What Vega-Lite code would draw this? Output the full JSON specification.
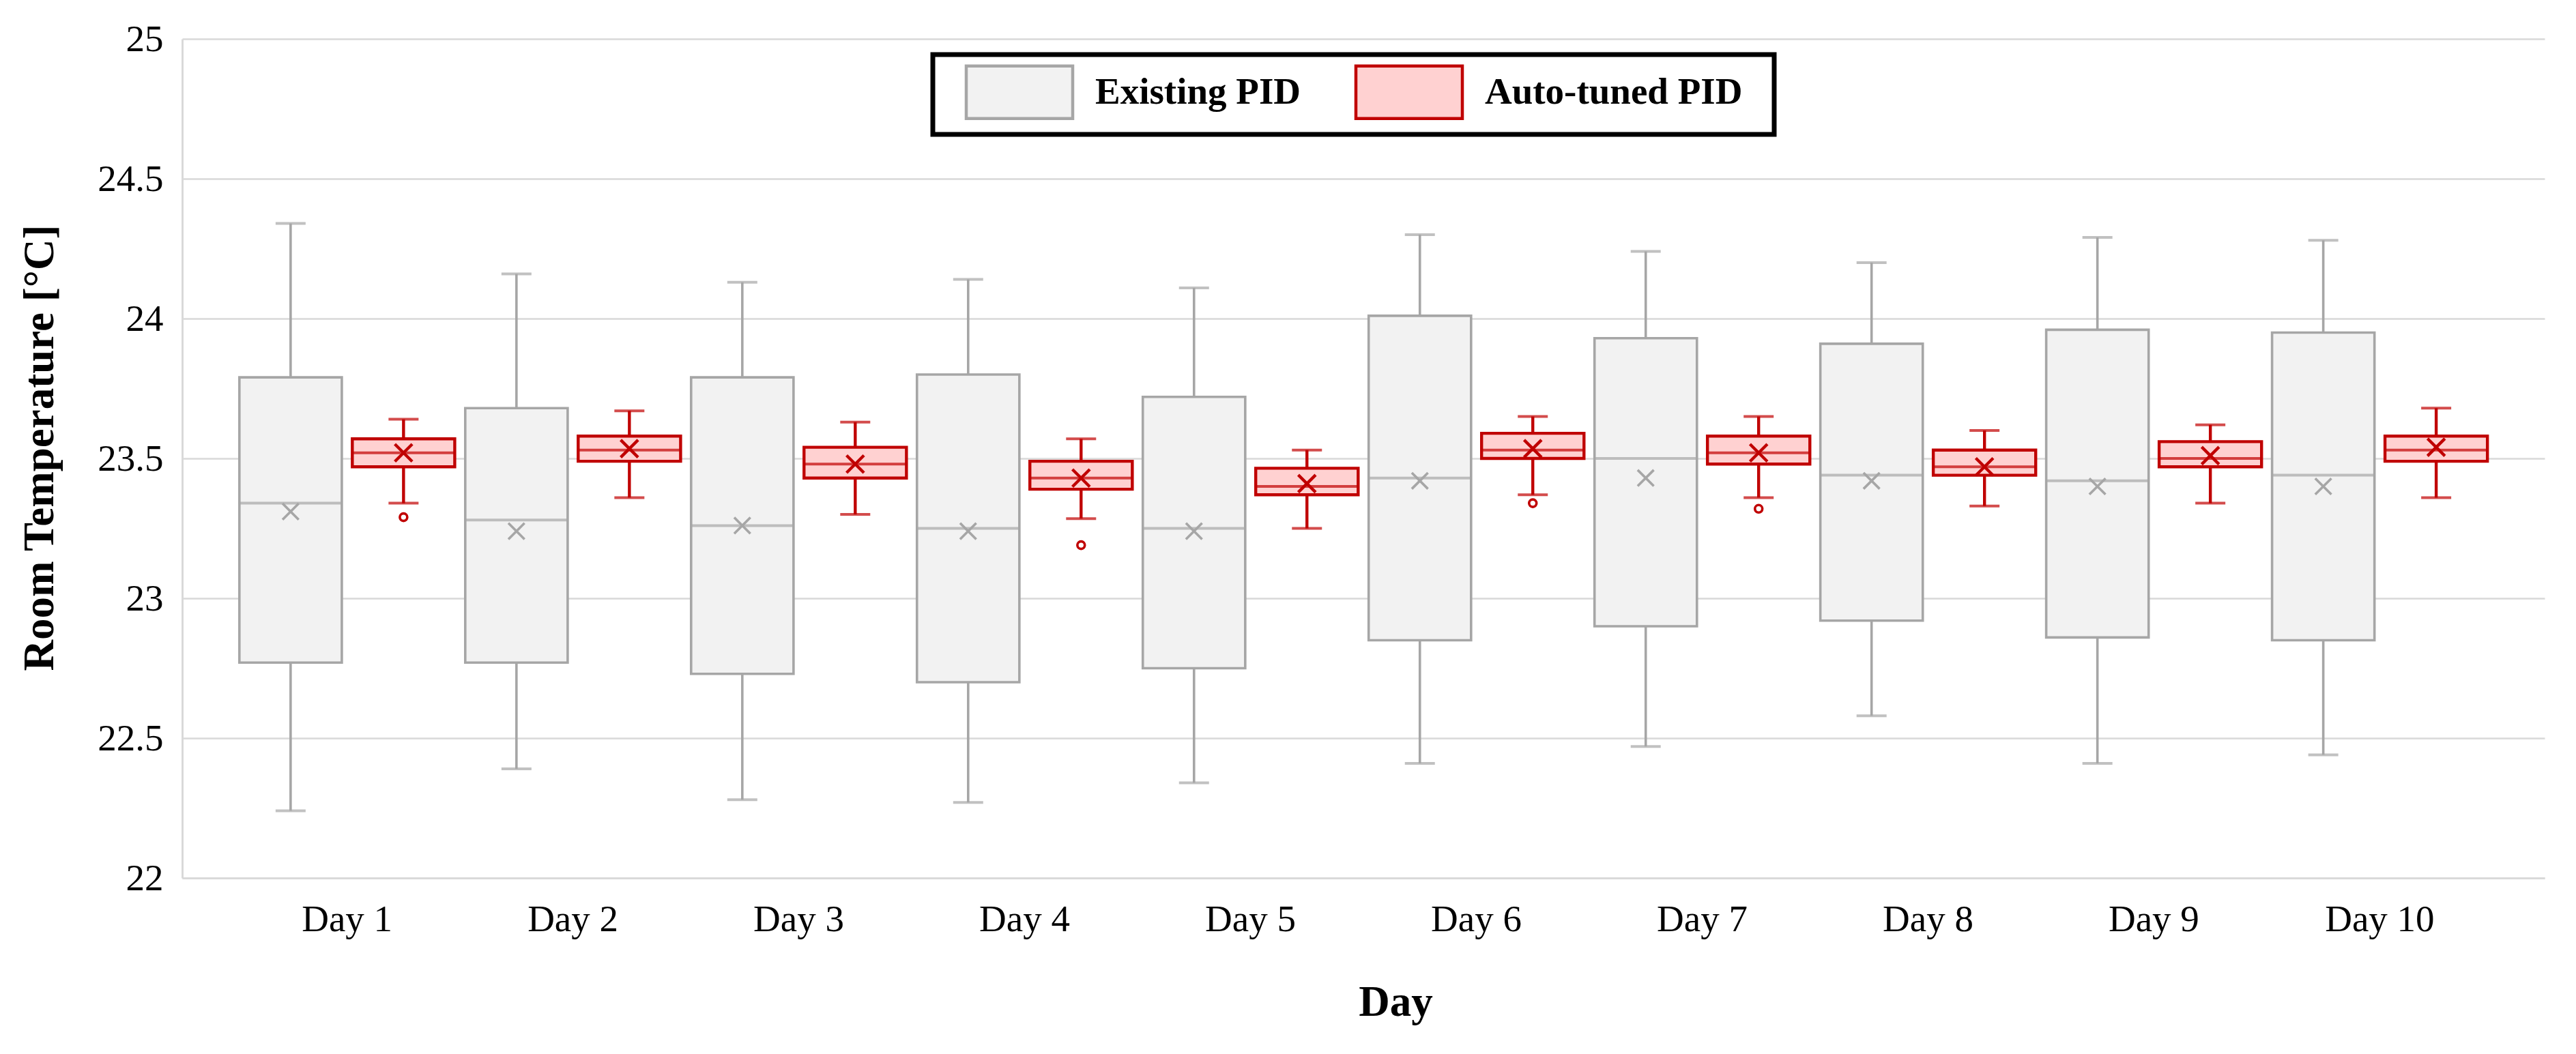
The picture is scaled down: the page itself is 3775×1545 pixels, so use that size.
{
  "$schema": "https://vega.github.io/schema/vega-lite/v6.json",
  "width": 3462,
  "height": 1230,
  "autosize": {"type": "none"},
  "padding": {"left": 267, "top": 57, "right": 46, "bottom": 258},
  "background": "white",
  "config": {
    "view": {"stroke": null},
    "font": "Liberation Serif",
    "axis": {
      "labelFont": "Liberation Serif",
      "labelFontSize": 55,
      "labelColor": "black",
      "titleFont": "Liberation Serif",
      "titleFontSize": 63,
      "titleFontWeight": "bold",
      "titleColor": "black",
      "ticks": false,
      "tickSize": 0,
      "domainColor": "#d9d9d9",
      "domainWidth": 3,
      "gridColor": "#d9d9d9",
      "gridWidth": 2.5
    },
    "axisX": {
      "grid": false,
      "labelAngle": 0,
      "labelPadding": 34,
      "labelBaseline": "top",
      "titleX": 1778,
      "titleY": 201,
      "titleAlign": "center",
      "titleBaseline": "alphabetic"
    },
    "axisY": {
      "grid": true,
      "labelPadding": 28,
      "titleX": -190,
      "titleY": 599,
      "titleAngle": -90,
      "titleAlign": "center",
      "titleBaseline": "alphabetic"
    },
    "legend": {
      "direction": "horizontal",
      "padding": 14,
      "strokeColor": "black",
      "strokeWidth": 7,
      "fillColor": "white",
      "symbolType": "M-2.026,-1H2.026V1H-2.026Z",
      "symbolSize": 5929,
      "symbolStrokeWidth": 4.5,
      "symbolOpacity": 1,
      "symbolOffset": 72,
      "labelOffset": 70,
      "columnPadding": 45,
      "labelFont": "Liberation Serif",
      "labelFontSize": 55,
      "labelFontWeight": "bold",
      "labelColor": "black",
      "labelLimit": 1000,
      "titleOrient": "right",
      "titlePadding": 33,
      "titleFontSize": 10,
      "titleColor": "white"
    }
  },
  "datasets": {
    "boxes": [
      {"day": "Day 1", "series": "Existing PID", "lower": 22.24, "q1": 22.77, "median": 23.34, "q3": 23.79, "upper": 24.34, "mean": 23.31},
      {"day": "Day 2", "series": "Existing PID", "lower": 22.39, "q1": 22.77, "median": 23.28, "q3": 23.68, "upper": 24.16, "mean": 23.24},
      {"day": "Day 3", "series": "Existing PID", "lower": 22.28, "q1": 22.73, "median": 23.26, "q3": 23.79, "upper": 24.13, "mean": 23.26},
      {"day": "Day 4", "series": "Existing PID", "lower": 22.27, "q1": 22.70, "median": 23.25, "q3": 23.80, "upper": 24.14, "mean": 23.24},
      {"day": "Day 5", "series": "Existing PID", "lower": 22.34, "q1": 22.75, "median": 23.25, "q3": 23.72, "upper": 24.11, "mean": 23.24},
      {"day": "Day 6", "series": "Existing PID", "lower": 22.41, "q1": 22.85, "median": 23.43, "q3": 24.01, "upper": 24.30, "mean": 23.42},
      {"day": "Day 7", "series": "Existing PID", "lower": 22.47, "q1": 22.90, "median": 23.50, "q3": 23.93, "upper": 24.24, "mean": 23.43},
      {"day": "Day 8", "series": "Existing PID", "lower": 22.58, "q1": 22.92, "median": 23.44, "q3": 23.91, "upper": 24.20, "mean": 23.42},
      {"day": "Day 9", "series": "Existing PID", "lower": 22.41, "q1": 22.86, "median": 23.42, "q3": 23.96, "upper": 24.29, "mean": 23.40},
      {"day": "Day 10", "series": "Existing PID", "lower": 22.44, "q1": 22.85, "median": 23.44, "q3": 23.95, "upper": 24.28, "mean": 23.40},
      {"day": "Day 1", "series": "Auto-tuned PID", "lower": 23.34, "q1": 23.47, "median": 23.52, "q3": 23.57, "upper": 23.64, "mean": 23.52},
      {"day": "Day 2", "series": "Auto-tuned PID", "lower": 23.36, "q1": 23.49, "median": 23.53, "q3": 23.58, "upper": 23.67, "mean": 23.535},
      {"day": "Day 3", "series": "Auto-tuned PID", "lower": 23.30, "q1": 23.43, "median": 23.48, "q3": 23.54, "upper": 23.63, "mean": 23.48},
      {"day": "Day 4", "series": "Auto-tuned PID", "lower": 23.285, "q1": 23.39, "median": 23.43, "q3": 23.49, "upper": 23.57, "mean": 23.43},
      {"day": "Day 5", "series": "Auto-tuned PID", "lower": 23.25, "q1": 23.37, "median": 23.40, "q3": 23.465, "upper": 23.53, "mean": 23.41},
      {"day": "Day 6", "series": "Auto-tuned PID", "lower": 23.37, "q1": 23.50, "median": 23.53, "q3": 23.59, "upper": 23.65, "mean": 23.535},
      {"day": "Day 7", "series": "Auto-tuned PID", "lower": 23.36, "q1": 23.48, "median": 23.52, "q3": 23.58, "upper": 23.65, "mean": 23.52},
      {"day": "Day 8", "series": "Auto-tuned PID", "lower": 23.33, "q1": 23.44, "median": 23.47, "q3": 23.53, "upper": 23.60, "mean": 23.47},
      {"day": "Day 9", "series": "Auto-tuned PID", "lower": 23.34, "q1": 23.47, "median": 23.50, "q3": 23.56, "upper": 23.62, "mean": 23.51},
      {"day": "Day 10", "series": "Auto-tuned PID", "lower": 23.36, "q1": 23.49, "median": 23.53, "q3": 23.58, "upper": 23.68, "mean": 23.54}
    ],
    "outliers": [
      {"day": "Day 1", "series": "Auto-tuned PID", "value": 23.29},
      {"day": "Day 4", "series": "Auto-tuned PID", "value": 23.19},
      {"day": "Day 6", "series": "Auto-tuned PID", "value": 23.34},
      {"day": "Day 7", "series": "Auto-tuned PID", "value": 23.32}
    ]
  },
  "encoding": {
    "x": {
      "field": "day",
      "type": "nominal",
      "title": "Day",
      "scale": {
        "domain": ["Day 1", "Day 2", "Day 3", "Day 4", "Day 5", "Day 6", "Day 7", "Day 8", "Day 9", "Day 10"],
        "paddingInner": 0,
        "paddingOuter": 0.23
      }
    },
    "xOffset": {
      "field": "series",
      "type": "nominal",
      "scale": {"domain": ["Existing PID", "Auto-tuned PID"], "paddingInner": 0.093, "paddingOuter": 0.0465}
    }
  },
  "layer": [
    {
      "data": {"name": "boxes"},
      "mark": {"type": "rule"},
      "encoding": {
        "y": {"field": "lower", "type": "quantitative", "title": "Room Temperature [°C]", "scale": {"domain": [22, 25], "nice": false, "zero": false}, "axis": {"values": [22, 22.5, 23, 23.5, 24, 24.5, 25], "format": "~g"}},
        "y2": {"field": "upper"},
        "color": {"field": "series", "type": "nominal", "scale": {"range": ["#c00000", "#a6a6a6"]}, "legend": null},
        "strokeWidth": {"field": "series", "type": "nominal", "scale": {"range": [4.4, 3.6]}, "legend": null}
      }
    },
    {
      "data": {"name": "boxes"},
      "mark": {"type": "bar", "opacity": 1},
      "encoding": {
        "y": {"field": "q1", "type": "quantitative", "title": "Room Temperature [°C]", "scale": {"domain": [22, 25], "nice": false, "zero": false}, "axis": {"values": [22, 22.5, 23, 23.5, 24, 24.5, 25], "format": "~g"}},
        "y2": {"field": "q3"},
        "fill": {"field": "series", "type": "nominal", "scale": {"domain": ["Existing PID", "Auto-tuned PID"], "range": ["#f2f2f2", "#ffd1d1"]}, "legend": {"title": "\u00a0", "orient": "none", "legendX": 1100, "legendY": 23, "direction": "horizontal"}},
        "stroke": {"field": "series", "type": "nominal", "scale": {"domain": ["Existing PID", "Auto-tuned PID"], "range": ["#a6a6a6", "#c00000"]}, "legend": {"title": "\u00a0", "orient": "none", "legendX": 1100, "legendY": 23, "direction": "horizontal"}},
        "strokeWidth": {"field": "series", "type": "nominal", "scale": {"range": [4.4, 3.6]}, "legend": null}
      }
    },
    {
      "data": {"name": "boxes"},
      "mark": {"type": "tick", "size": 150, "thickness": 4},
      "encoding": {
        "y": {"field": "median", "type": "quantitative", "title": "Room Temperature [°C]", "scale": {"domain": [22, 25], "nice": false, "zero": false}, "axis": {"values": [22, 22.5, 23, 23.5, 24, 24.5, 25], "format": "~g"}},
        "color": {"field": "series", "type": "nominal", "scale": {"range": ["#c00000", "#a6a6a6"]}, "legend": null}
      }
    },
    {
      "data": {"name": "boxes"},
      "mark": {"type": "tick", "size": 44, "thickness": 4},
      "encoding": {
        "y": {"field": "upper", "type": "quantitative", "title": "Room Temperature [°C]", "scale": {"domain": [22, 25], "nice": false, "zero": false}, "axis": {"values": [22, 22.5, 23, 23.5, 24, 24.5, 25], "format": "~g"}},
        "color": {"field": "series", "type": "nominal", "scale": {"range": ["#c00000", "#a6a6a6"]}, "legend": null}
      }
    },
    {
      "data": {"name": "boxes"},
      "mark": {"type": "tick", "size": 44, "thickness": 4},
      "encoding": {
        "y": {"field": "lower", "type": "quantitative", "title": "Room Temperature [°C]", "scale": {"domain": [22, 25], "nice": false, "zero": false}, "axis": {"values": [22, 22.5, 23, 23.5, 24, 24.5, 25], "format": "~g"}},
        "color": {"field": "series", "type": "nominal", "scale": {"range": ["#c00000", "#a6a6a6"]}, "legend": null}
      }
    },
    {
      "data": {"name": "boxes"},
      "mark": {"type": "point", "shape": "M-1,-1L1,1M-1,1L1,-1", "filled": false, "opacity": 1},
      "encoding": {
        "y": {"field": "mean", "type": "quantitative", "title": "Room Temperature [°C]", "scale": {"domain": [22, 25], "nice": false, "zero": false}, "axis": {"values": [22, 22.5, 23, 23.5, 24, 24.5, 25], "format": "~g"}},
        "color": {"field": "series", "type": "nominal", "scale": {"range": ["#c00000", "#a6a6a6"]}, "legend": null},
        "strokeWidth": {"field": "series", "type": "nominal", "scale": {"range": [4.4, 3.6]}, "legend": null},
        "size": {"field": "series", "type": "ordinal", "scale": {"range": [650, 560]}, "legend": null}
      }
    },
    {
      "data": {"name": "outliers"},
      "mark": {"type": "point", "shape": "circle", "filled": false, "size": 120, "strokeWidth": 3.6, "opacity": 1},
      "encoding": {
        "y": {"field": "value", "type": "quantitative", "title": "Room Temperature [°C]", "scale": {"domain": [22, 25], "nice": false, "zero": false}, "axis": {"values": [22, 22.5, 23, 23.5, 24, 24.5, 25], "format": "~g"}},
        "color": {"field": "series", "type": "nominal", "scale": {"range": ["#c00000", "#a6a6a6"]}, "legend": null}
      }
    }
  ]
}
